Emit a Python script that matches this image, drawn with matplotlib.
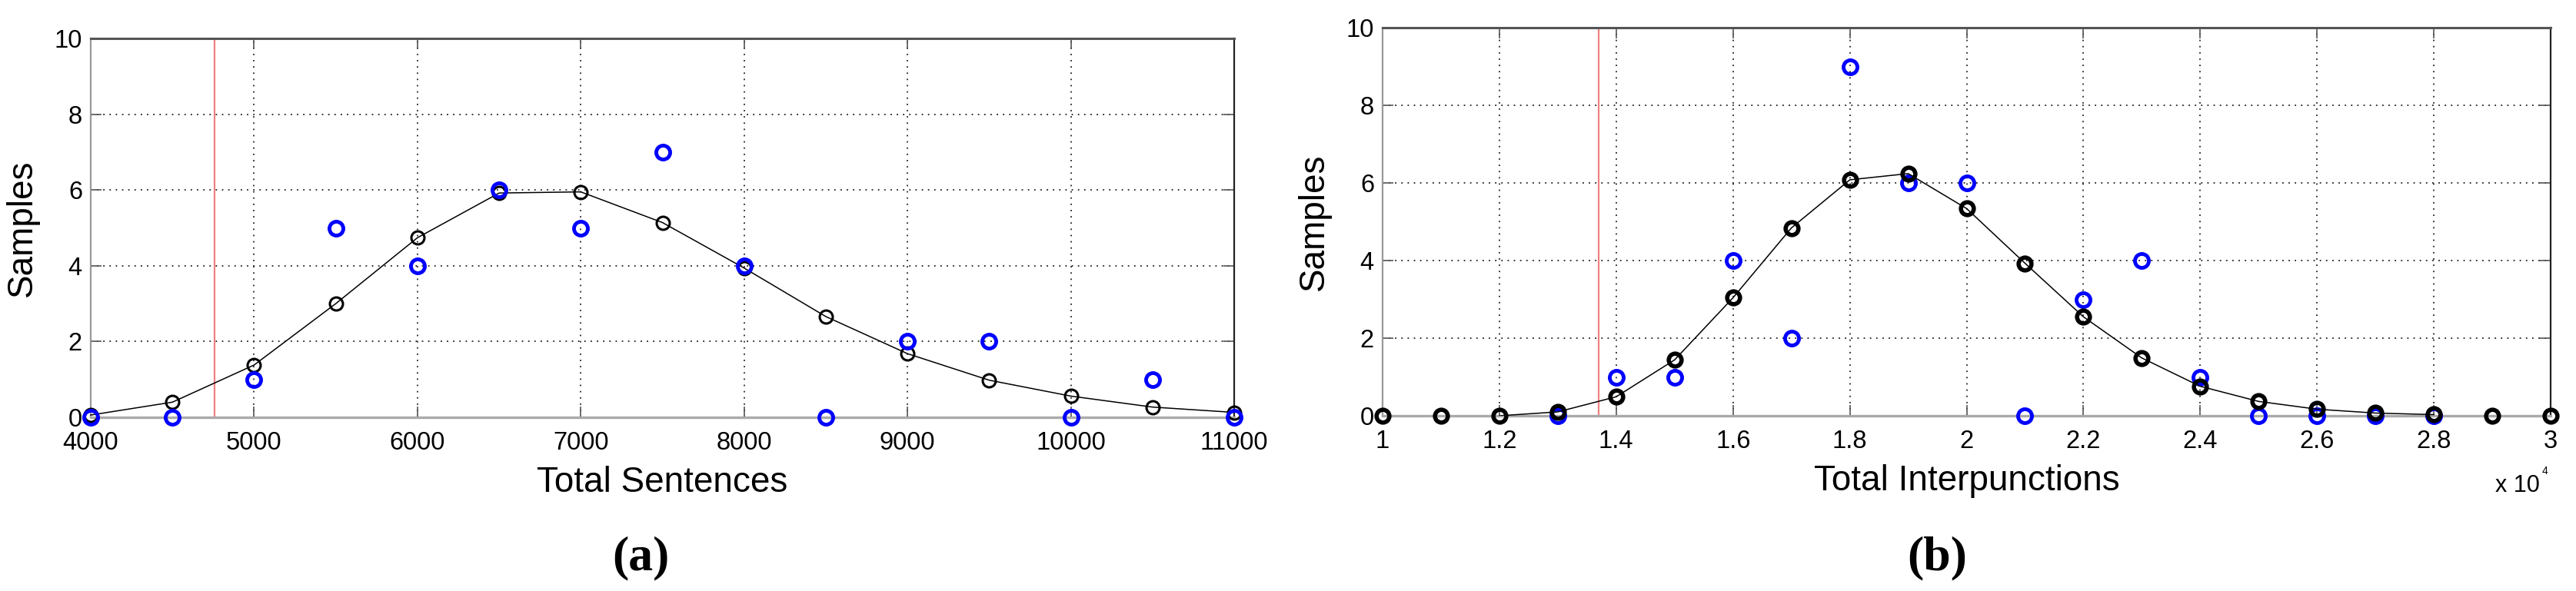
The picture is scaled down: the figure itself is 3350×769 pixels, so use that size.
import numpy as np
import matplotlib
matplotlib.use('Agg')
from matplotlib import pyplot as plt
from matplotlib.ticker import FuncFormatter

plt.rcParams['font.family'] = ['Liberation Sans', 'DejaVu Sans']

# (a) total sentences
sent_x = [4000, 4500, 5000, 5500, 6000, 6500, 7000, 7500, 8000, 8500, 9000, 9500, 10000, 10500, 11000]
sent_fit = [0.06, 0.40, 1.38, 3.0, 4.74, 5.92, 5.95, 5.14, 3.94, 2.66, 1.68, 0.98, 0.56, 0.27, 0.13]
sent_obs = [0, 0, 1, 5, 4, 6, 5, 7, 4, 0, 2, 2, 0, 1, 0]
sent_cut = 4760

# (b) total interpunctions
interp_x = [10000, 11000, 12000, 13000, 14000, 15000, 16000, 17000, 18000, 19000, 20000,
            21000, 22000, 23000, 24000, 25000, 26000, 27000, 28000, 29000, 30000]
interp_fit = [0, 0, 0, 0.10, 0.49, 1.44, 3.04, 4.84, 6.08, 6.24, 5.34,
              3.93, 2.55, 1.49, 0.76, 0.37, 0.17, 0.07, 0.03, 0, 0]
interp_obs_x = [13000, 14000, 15000, 16000, 17000, 18000, 19000, 20000,
                21000, 22000, 23000, 24000, 25000, 26000, 27000, 28000]
interp_obs = [0, 1, 1, 4, 2, 9, 6, 6, 0, 3, 4, 1, 0, 0, 0, 0]
interp_cut = 13700

W, H = 3350, 769
fig = plt.figure(figsize=(W / 100, H / 100), dpi=100)


def px_axes(x0, y0, x1, y1):
    return fig.add_axes([x0 / W, 1 - y1 / H, (x1 - x0) / W, (y1 - y0) / H])


def style(ax):
    ax.set_ylim(0, 10)
    ax.set_yticks([0, 2, 4, 6, 8, 10])
    ax.grid(True, color='#222222', linestyle=(0, (1, 3.5)), linewidth=1.3)
    ax.tick_params(direction='in', length=10, width=1.2, labelsize=23.5,
                   top=True, right=True, color='#555555')
    ax.tick_params(axis='x', pad=13)
    ax.tick_params(axis='y', pad=8)
    ax.spines['top'].set_color('#555555')
    ax.spines['top'].set_linewidth(2.2)
    ax.spines['right'].set_color('#222222')
    ax.spines['right'].set_linewidth(1.6)
    ax.spines['left'].set_color('#999999')
    ax.spines['left'].set_linewidth(1.6)
    ax.spines['bottom'].set_color('#aaaaaa')
    ax.spines['bottom'].set_linewidth(2.4)
    ax.set_ylabel('Samples', fontsize=33, labelpad=14)


# ---- (a)
ax1 = px_axes(118, 50, 1605, 543)
style(ax1)
ax1.axvline(sent_cut, color='#f08080', linewidth=1.6, zorder=2)
ax1.plot(sent_x, sent_fit, color='black', linewidth=1.1, marker='o', markersize=12.2,
         markerfacecolor='none', markeredgecolor='black', markeredgewidth=2.2,
         zorder=3, clip_on=False)
ax1.plot(sent_x, sent_obs, linestyle='none', marker='o', markersize=13,
         markerfacecolor='none', markeredgecolor='#0000ff', markeredgewidth=3.5,
         zorder=4, clip_on=False)
ax1.set_xlim(4000, 11000)
ax1.set_xticks(range(4000, 11001, 1000))
ax1.set_xlabel('Total Sentences', fontsize=33, labelpad=10)

# ---- (b)
ax2 = px_axes(1798, 36, 3317, 541)
style(ax2)
ax2.axvline(interp_cut, color='#f08080', linewidth=1.6, zorder=2)
ax2.plot(interp_obs_x, interp_obs, linestyle='none', marker='o', markersize=13,
         markerfacecolor='none', markeredgecolor='#0000ff', markeredgewidth=3.5,
         zorder=3, clip_on=False)
ax2.plot(interp_x[2:19], interp_fit[2:19], color='black', linewidth=1.1, zorder=4)
ax2.plot(interp_x, interp_fit, linestyle='none', marker='o', markersize=12,
         markerfacecolor='none', markeredgecolor='black', markeredgewidth=4,
         zorder=5, clip_on=False)
ax2.set_xlim(10000, 30000)
ax2.set_xticks(range(10000, 30001, 2000))
ax2.xaxis.set_major_formatter(FuncFormatter(lambda v, p: '%g' % (v / 1e4)))
ax2.set_xlabel('Total Interpunctions', fontsize=33, labelpad=10)

fig.text(3303 / W, 1 - 640 / H, 'x 10', fontsize=22, ha='right', va='baseline')
fig.text(3306 / W, 1 - 617 / H, '4', fontsize=10, ha='left', va='baseline')

fig.text(833 / W, 1 - 726 / H, '(a)', fontsize=46, fontweight='bold',
         family=['Liberation Serif', 'DejaVu Serif'], ha='center', va='center')
fig.text(2519 / W, 1 - 726 / H, '(b)', fontsize=46, fontweight='bold',
         family=['Liberation Serif', 'DejaVu Serif'], ha='center', va='center')

fig.savefig('out.png', dpi=100, facecolor='white')
